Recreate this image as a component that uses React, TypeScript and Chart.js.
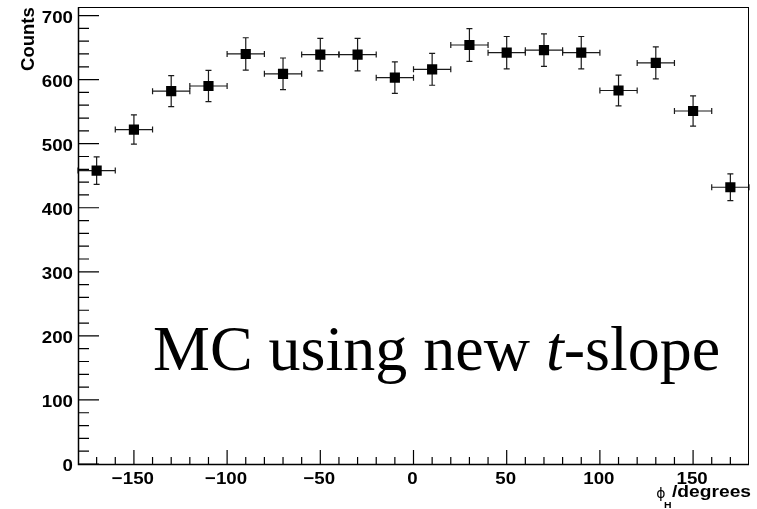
import React, { useEffect, useRef } from "react";
import { Chart, registerables } from "chart.js";

Chart.register(...registerables);

// ---- data ----
const binCenters = [-170, -150, -130, -110, -90, -70, -50, -30, -10, 10, 30, 50, 70, 90, 110, 130, 150, 170];
const counts = [458, 522, 582, 590, 640, 609, 639, 639, 603, 616, 654, 642, 646, 642, 583, 626, 551, 432];
const countErrors = [21.4, 22.8, 24.1, 24.3, 25.3, 24.7, 25.3, 25.3, 24.6, 24.8, 25.6, 25.3, 25.4, 25.3, 24.1, 25.0, 23.5, 20.8];
const binHalfWidths = [10, 10, 10, 10, 10, 10, 10, 10, 10, 10, 10, 10, 10, 10, 10, 10, 10, 10];

const xMajorTicks = [-150, -100, -50, 0, 50, 100, 150];
const xMinorTicks = [-170, -160, -140, -130, -120, -110, -90, -80, -70, -60, -40, -30, -20, -10, 10, 20, 30, 40, 60, 70, 80, 90, 110, 120, 130, 140, 160, 170];
const yMajorTicks = [0, 100, 200, 300, 400, 500, 600, 700];
const yMinorTicks = [20, 40, 60, 80, 120, 140, 160, 180, 220, 240, 260, 280, 320, 340, 360, 380, 420, 440, 460, 480, 520, 540, 560, 580, 620, 640, 660, 680];

const X_MIN = -180;
const X_MAX = 180;
const Y_MIN = 0;
const Y_MAX = 713;

const yTitle = "Counts";
const xTitleSymbol = "\u03D5";
const xTitleSub = "H";
const xTitleRest = "/degrees";
const noteA = "MC using new ";
const noteItalic = "t";
const noteB = "-slope";

const SANS = '"Liberation Sans", Arial, Helvetica, sans-serif';
const SERIF = '"Liberation Serif", "Times New Roman", serif';

function fmtTick(v: number) {
  return v < 0 ? "\u2212" + String(-v) : String(v);
}

function stretchText(
  ctx: CanvasRenderingContext2D,
  text: string,
  x: number,
  y: number,
  font: string,
  align: CanvasTextAlign,
  sx: number
) {
  ctx.save();
  ctx.font = font;
  ctx.textAlign = align;
  ctx.textBaseline = "alphabetic";
  ctx.translate(x, y);
  ctx.scale(sx, 1);
  ctx.fillText(text, 0, 0);
  ctx.restore();
}

const errorBarPlugin = {
  id: "errorBars",
  beforeDatasetsDraw(chart: any) {
    const ctx: CanvasRenderingContext2D = chart.ctx;
    const xs = chart.scales.x;
    const ys = chart.scales.y;
    const cap = 3;
    ctx.save();
    ctx.strokeStyle = "#1a1a1a";
    ctx.lineWidth = 1.2;
    binCenters.forEach((xc, i) => {
      const px = xs.getPixelForValue(xc);
      const py = ys.getPixelForValue(counts[i]);
      const xl = xs.getPixelForValue(xc - binHalfWidths[i]);
      const xr = xs.getPixelForValue(xc + binHalfWidths[i]);
      const yt = ys.getPixelForValue(counts[i] + countErrors[i]);
      const yb = ys.getPixelForValue(counts[i] - countErrors[i]);
      ctx.beginPath();
      ctx.moveTo(xl, py);
      ctx.lineTo(xr, py);
      ctx.moveTo(xl, py - cap);
      ctx.lineTo(xl, py + cap);
      ctx.moveTo(xr, py - cap);
      ctx.lineTo(xr, py + cap);
      ctx.moveTo(px, yt);
      ctx.lineTo(px, yb);
      ctx.moveTo(px - cap, yt);
      ctx.lineTo(px + cap, yt);
      ctx.moveTo(px - cap, yb);
      ctx.lineTo(px + cap, yb);
      ctx.stroke();
    });
    ctx.restore();
  },
};

const axesPlugin = {
  id: "rootAxes",
  afterDraw(chart: any) {
    const ctx: CanvasRenderingContext2D = chart.ctx;
    const xs = chart.scales.x;
    const ys = chart.scales.y;
    const a = chart.chartArea;
    ctx.save();
    // frame
    ctx.strokeStyle = "#000";
    ctx.lineWidth = 1;
    ctx.strokeRect(Math.round(a.left) + 0.5, Math.round(a.top) + 0.5, Math.round(a.right - a.left) - 1, Math.round(a.bottom - a.top));
    ctx.lineWidth = 1.5;
    ctx.beginPath();
    ctx.moveTo(a.left + 0.5, a.top);
    ctx.lineTo(a.left + 0.5, a.bottom + 0.5);
    ctx.lineTo(a.right, a.bottom + 0.5);
    ctx.stroke();

    // ticks (inward)
    ctx.lineWidth = 1.2;
    ctx.beginPath();
    yMajorTicks.forEach((v) => {
      const y = ys.getPixelForValue(v);
      ctx.moveTo(a.left, y);
      ctx.lineTo(a.left + 21, y);
    });
    yMinorTicks.forEach((v) => {
      const y = ys.getPixelForValue(v);
      ctx.moveTo(a.left, y);
      ctx.lineTo(a.left + 11, y);
    });
    xMajorTicks.forEach((v) => {
      const x = xs.getPixelForValue(v);
      ctx.moveTo(x, a.bottom);
      ctx.lineTo(x, a.bottom - 14);
    });
    xMinorTicks.forEach((v) => {
      const x = xs.getPixelForValue(v);
      ctx.moveTo(x, a.bottom);
      ctx.lineTo(x, a.bottom - 7);
    });
    ctx.stroke();

    // tick labels
    ctx.fillStyle = "#000";
    const tickFont = "bold 17px " + SANS;
    yMajorTicks.forEach((v) => {
      const y = ys.getPixelForValue(v);
      stretchText(ctx, fmtTick(v), a.left - 5, y + 7, tickFont, "right", 1.1);
    });
    xMajorTicks.forEach((v) => {
      const x = xs.getPixelForValue(v);
      stretchText(ctx, fmtTick(v), x - 1, a.bottom + 20, tickFont, "center", 1.1);
    });

    // y title (rotated, top-aligned)
    ctx.save();
    ctx.font = "bold 18.5px " + SANS;
    ctx.textAlign = "right";
    ctx.textBaseline = "alphabetic";
    ctx.translate(33.5, a.top);
    ctx.rotate(-Math.PI / 2);
    ctx.fillText(yTitle, 0, 0);
    ctx.restore();

    // x title
    const titleFont = "bold 16px " + SANS;
    const tsx = 1.2;
    stretchText(ctx, xTitleRest, 751, 497, titleFont, "right", tsx);
    ctx.font = titleFont;
    const restW = ctx.measureText(xTitleRest).width * tsx;
    const restLeft = 751 - restW;
    stretchText(ctx, xTitleSub, restLeft - 0.5, 508, "bold 9.5px " + SANS, "right", 1.1);
    stretchText(ctx, xTitleSymbol, restLeft - 6.5, 497.5, '14px "DejaVu Sans", ' + SANS, "right", 1.0);

    // annotation
    ctx.textAlign = "left";
    ctx.textBaseline = "alphabetic";
    let tx = 153;
    const by = 370;
    ctx.font = "64px " + SERIF;
    ctx.fillText(noteA, tx, by);
    tx += ctx.measureText(noteA).width;
    ctx.font = "italic 64px " + SERIF;
    ctx.fillText(noteItalic, tx, by);
    tx += ctx.measureText(noteItalic).width;
    ctx.font = "64px " + SERIF;
    ctx.fillText(noteB, tx, by);
    ctx.restore();
  },
};

export default function App() {
  const canvasRef = useRef<HTMLCanvasElement | null>(null);

  useEffect(() => {
    const canvas = canvasRef.current;
    if (!canvas) return;
    const chart = new Chart(canvas, {
      type: "scatter",
      data: {
        datasets: [
          {
            data: binCenters.map((x, i) => ({ x, y: counts[i] })),
            pointStyle: "rect",
            pointRadius: 7.2,
            pointHoverRadius: 7.2,
            pointBorderWidth: 0,
            pointBackgroundColor: "#000",
            borderColor: "#000",
            showLine: false,
          },
        ],
      },
      options: {
        responsive: false,
        animation: false,
        devicePixelRatio: 1,
        layout: { padding: { left: 78, top: 7, right: 8, bottom: 45 } },
        scales: {
          x: { type: "linear", min: X_MIN, max: X_MAX, display: false },
          y: { type: "linear", min: Y_MIN, max: Y_MAX, display: false },
        },
        plugins: {
          legend: { display: false },
          tooltip: { enabled: false },
        },
        events: [],
      },
      plugins: [errorBarPlugin, axesPlugin],
    });
    return () => chart.destroy();
  }, []);

  return (
    <div style={{ position: "absolute", left: 0, top: 0, width: 757, height: 509, background: "#fff" }}>
      <canvas ref={canvasRef} width={757} height={509} style={{ display: "block" }} />
    </div>
  );
}
